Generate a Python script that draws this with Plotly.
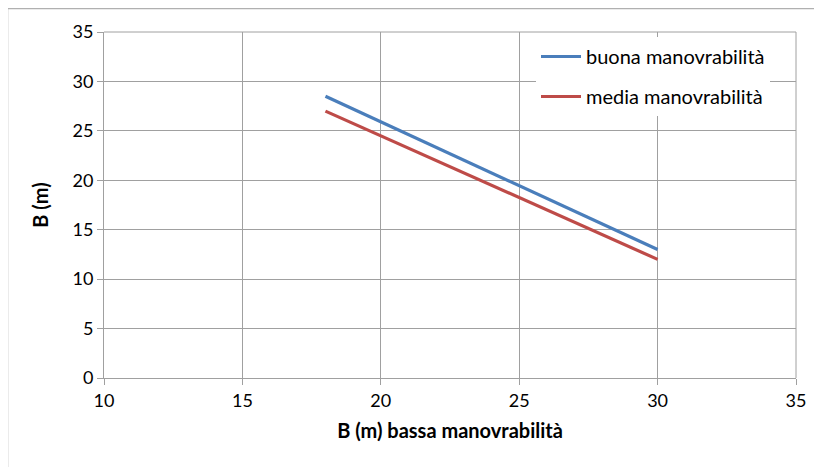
import plotly.graph_objects as go

x_vals = [18, 30]
buona = [28.5, 13.0]
media = [27.0, 12.0]
series_names = ["buona manovrabilità", "media manovrabilità"]
x_title = "B (m) bassa manovrabilità"
y_title = "B (m)"

OFF = 8  # page body margin
W, H = 822 - OFF, 467 - OFF
L, R, T, B = 104 - OFF, 26, 32 - OFF, 89
pw, ph = W - L - R, H - T - B

def px_x(p):
    return (p - OFF - L) / pw

def px_y(p):
    return (H - B - (p - OFF)) / ph

fig = go.Figure()
fig.add_trace(go.Scatter(x=x_vals, y=buona, mode="lines", name=series_names[0],
                         legendgroup="a", line=dict(color="#4a7ebb", width=3.2)))
fig.add_trace(go.Scatter(x=x_vals, y=media, mode="lines", name=series_names[1],
                         legendgroup="b", line=dict(color="#be4b48", width=3.2)))

font = "Lato"
fig.update_layout(
    width=W, height=H,
    margin=dict(l=L, r=R, t=T, b=B, pad=0),
    paper_bgcolor="white", plot_bgcolor="white",
    font=dict(family=font, size=18, color="#000"),
    showlegend=True,
    legend=dict(x=px_x(536), y=px_y(37), xanchor="left", yanchor="top",
                bgcolor="white", borderwidth=0, font=dict(size=20, family=font),
                traceorder="grouped", tracegroupgap=11, itemwidth=40),
    xaxis=dict(range=[10, 35], dtick=5, tick0=10, showgrid=True, gridcolor="#a0a0a0",
               gridwidth=1, showline=True, linecolor="#a0a0a0", linewidth=1,
               ticks="outside", ticklen=6, tickcolor="#a0a0a0", zeroline=False,
               tickfont=dict(size=18, family=font),
               title=dict(text="<b>" + x_title + "</b>", font=dict(size=20, family=font), standoff=14)),
    yaxis=dict(range=[0, 35], dtick=5, tick0=0, showgrid=True, gridcolor="#a0a0a0",
               gridwidth=1, showline=True, linecolor="#a0a0a0", linewidth=1,
               ticks="outside", ticklen=6, tickcolor="#a0a0a0", zeroline=False,
               tickfont=dict(size=18, family=font),
               title=dict(text="<b>" + y_title + "</b>", font=dict(size=20, family=font), standoff=18)),
    shapes=[
        dict(type="rect", xref="paper", yref="paper",
             x0=px_x(7.5), y0=px_y(480), x1=px_x(840), y1=px_y(8.5),
             line=dict(color="#b0b0b0", width=1.5), layer="below"),
        dict(type="line", xref="paper", yref="paper",
             x0=1, y0=0, x1=1, y1=1, line=dict(color="#a0a0a0", width=1)),
        dict(type="line", xref="paper", yref="paper",
             x0=0, y0=1, x1=1, y1=1, line=dict(color="#a0a0a0", width=1)),
    ],
)

fig.write_html("out.html")
